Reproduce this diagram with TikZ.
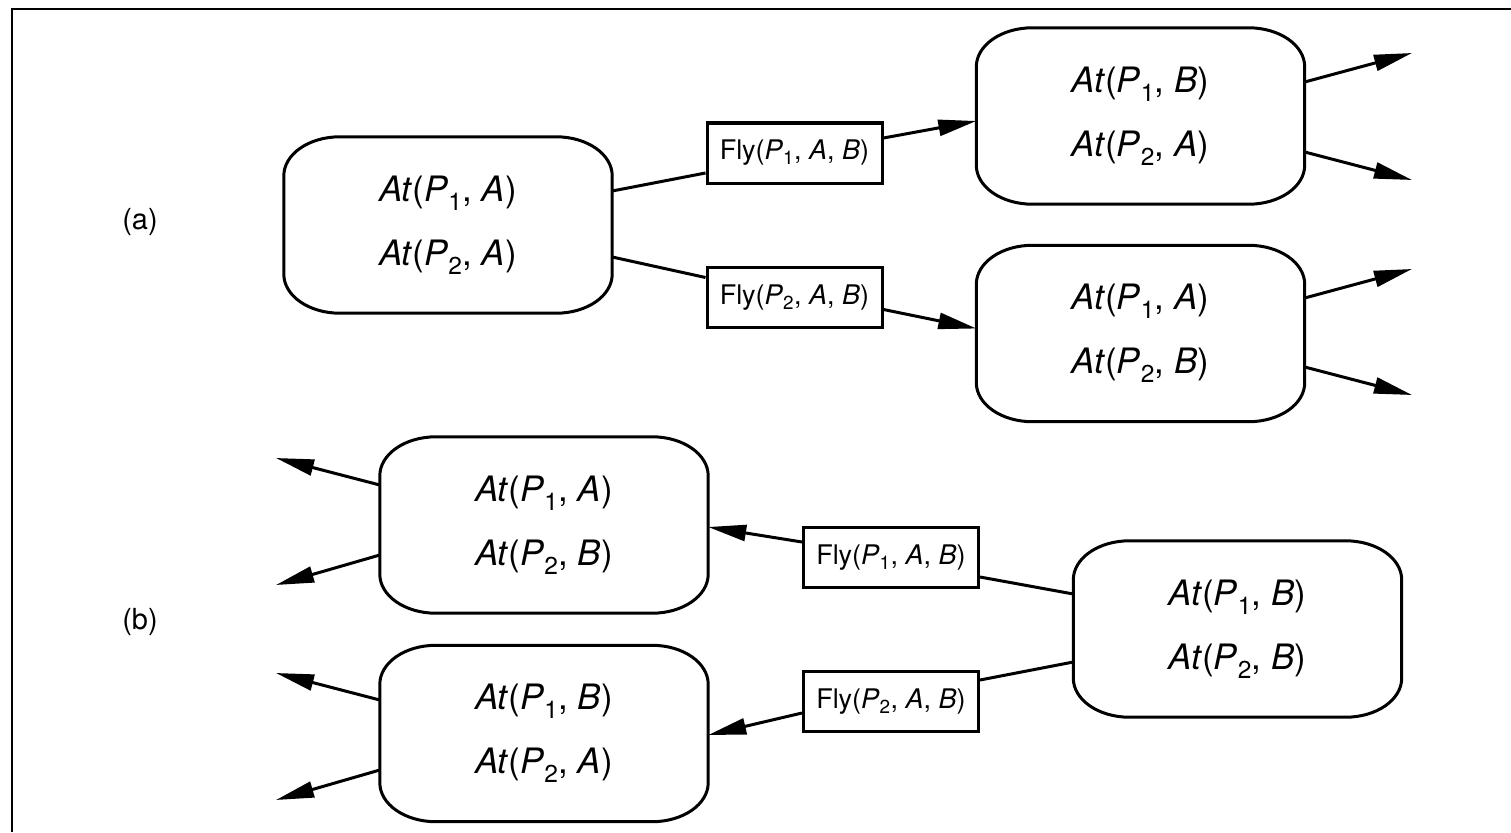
\documentclass[tikz,border=0pt]{standalone}
\usepackage{fontspec}
\setmainfont{TeX Gyre Heros}
\usetikzlibrary{arrows.meta}
\newcommand\drawstate[1]{%
  \draw[line width=3pt] ([xshift=56pt]#1.north west) -- ([xshift=-56pt]#1.north east)
    arc[start angle=90, end angle=0, x radius=56pt, y radius=39pt]
    -- ([yshift=39pt]#1.south east)
    arc[start angle=0, end angle=-90, x radius=56pt, y radius=39pt]
    -- ([xshift=56pt]#1.south west)
    arc[start angle=270, end angle=180, x radius=56pt, y radius=39pt]
    -- ([yshift=-39pt]#1.north west)
    arc[start angle=180, end angle=90, x radius=56pt, y radius=39pt] -- cycle;}
\newcommand\At[2]{\textit{At}(\textit{P}\textsubscript{#1}, \textit{#2})}
\newcommand\Fly[1]{Fly(\textit{P}\textsubscript{#1}, \textit{A}, \textit{B})}
\tikzset{
  state/.style={minimum width=328pt, minimum height=176pt, inner sep=0pt, align=center,
    font=\fontsize{35}{64}\selectfont},
  action/.style={draw, line width=3pt, minimum width=175pt, minimum height=60pt, inner sep=0pt,
    font=\fontsize{27}{30}\selectfont},
  conn/.style={line width=3pt},
  arr/.style={line width=3pt, -{Triangle[length=38pt, width=16pt]}},
  lbl/.style={font=\fontsize{29}{34}\selectfont}
}
\begin{document}
\begin{tikzpicture}[x=1pt, y=-1pt]
\useasboundingbox (0,0) rectangle (1511,832);
% frame
\draw[line width=2.5pt] (12,832) -- (12,9) -- (1511,9);
% labels
\node[lbl] (la) at (140,222) {(a)};
\node[lbl] (lb) at (140,622) {(b)};
% (a)
\node[state] (a1) at (448,225) {\At{1}{A}\\\At{2}{A}};
\node[state] (a2) at (1140.5,116) {\At{1}{B}\\\At{2}{A}};
\node[state] (a3) at (1140.5,333.5) {\At{1}{A}\\\At{2}{B}};
\drawstate{a1}\drawstate{a2}\drawstate{a3}
\node[action] (fa1) at (794.5,153) {\Fly{1}};
\node[action] (fa2) at (794.5,297.5) {\Fly{2}};
\draw[conn] ([yshift=34pt]a1.east) -- ([yshift=-20pt]fa1.west);
\draw[arr] ([yshift=15pt]fa1.east) -- ([yshift=-5pt]a2.west);
\draw[conn] ([yshift=-32pt]a1.east) -- ([yshift=20pt]fa2.west);
\draw[arr] ([yshift=-12pt]fa2.east) -- ([yshift=5pt]a3.west);
\coordinate (o1) at (1412,53);
\coordinate (o2) at (1412,180);
\coordinate (o3) at (1412,269);
\coordinate (o4) at (1412,395);
\draw[arr] ([yshift=34pt]a2.east) -- (o1);
\draw[arr] ([yshift=-36pt]a2.east) -- (o2);
\draw[arr] ([yshift=35.5pt]a3.east) -- (o3);
\draw[arr] ([yshift=-33.5pt]a3.east) -- (o4);
% (b)
\node[state] (b1) at (544,525) {\At{1}{A}\\\At{2}{B}};
\node[state] (b2) at (544,733.5) {\At{1}{B}\\\At{2}{A}};
\node[state] (b3) at (1237.5,629) {\At{1}{B}\\\At{2}{B}};
\drawstate{b1}\drawstate{b2}\drawstate{b3}
\node[action] (fb1) at (891,557.5) {\Fly{1}};
\node[action] (fb2) at (891,701.5) {\Fly{2}};
\draw[conn] ([yshift=35pt]b3.west) -- ([yshift=-19.5pt]fb1.east);
\draw[arr] ([yshift=15.5pt]fb1.west) -- ([yshift=-2pt]b1.east);
\draw[conn] ([yshift=-33pt]b3.west) -- ([yshift=21.5pt]fb2.east);
\draw[arr] ([yshift=-11.5pt]fb2.west) -- ([yshift=-1.5pt]b2.east);
\coordinate (i1) at (276,458);
\coordinate (i2) at (276,585);
\coordinate (i3) at (276,673);
\coordinate (i4) at (276,800);
\draw[arr] ([yshift=40pt]b1.west) -- (i1);
\draw[arr] ([yshift=-30pt]b1.west) -- (i2);
\draw[arr] ([yshift=33.5pt]b2.west) -- (i3);
\draw[arr] ([yshift=-36.5pt]b2.west) -- (i4);
\end{tikzpicture}
\end{document}
